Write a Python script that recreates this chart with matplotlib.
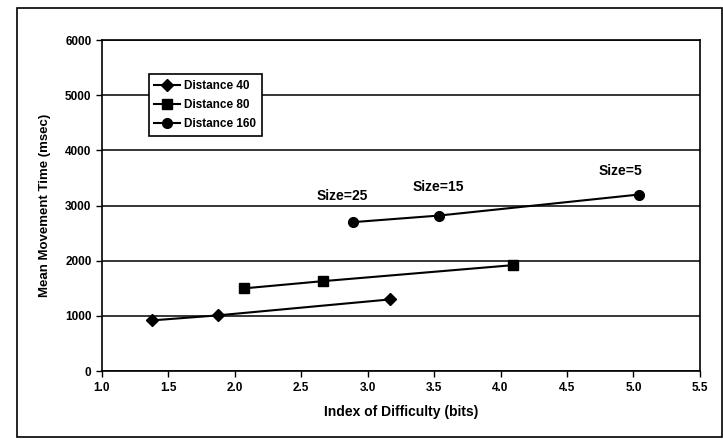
import matplotlib
matplotlib.use("Agg")
import matplotlib.pyplot as plt
from matplotlib.patches import Rectangle

# ---------------------------------------------------------
# DATA
# ---------------------------------------------------------

id_d40 = [1.38, 1.87, 3.17]
mt_d40 = [920, 1010, 1300]

id_d80 = [2.07, 2.66, 4.09]
mt_d80 = [1500, 1630, 1920]

id_d160 = [2.89, 3.54, 5.04]
mt_d160 = [2700, 2820, 3200]

size_labels = ["Size=25", "Size=15", "Size=5"]
size_label_x = [2.81, 3.53, 4.90]
size_label_y = [3180, 3345, 3620]

x_ticks = [1.0, 1.5, 2.0, 2.5, 3.0, 3.5, 4.0, 4.5, 5.0, 5.5]
y_ticks = [0, 1000, 2000, 3000, 4000, 5000, 6000]

# ---------------------------------------------------------
# STYLE
# ---------------------------------------------------------

plt.rcParams["font.family"] = ["Liberation Sans Narrow", "Liberation Sans", "DejaVu Sans"]
plt.rcParams["font.weight"] = "bold"

fig = plt.figure(figsize=(7.23, 4.45), dpi=100)
ax = fig.add_axes([0.141, 0.166, 0.827, 0.744])

# outer chart border
fig.patches.append(Rectangle((0.024, 0.018), 0.974, 0.964, transform=fig.transFigure,
                             fill=False, edgecolor="black", linewidth=1.2))

# ---------------------------------------------------------
# PLOT
# ---------------------------------------------------------

ax.plot(id_d40, mt_d40, color="black", lw=1.5, marker="D", ms=6, label="Distance 40")
ax.plot(id_d80, mt_d80, color="black", lw=1.5, marker="s", ms=7, label="Distance 80")
ax.plot(id_d160, mt_d160, color="black", lw=1.5, marker="o", ms=7, label="Distance 160")

for txt, x, y in zip(size_labels, size_label_x, size_label_y):
    ax.text(x, y, txt, fontsize=10, fontweight="bold", ha="center", va="center")

ax.set_xlim(1.0, 5.5)
ax.set_ylim(0, 6000)
ax.set_xticks(x_ticks)
ax.set_xticklabels([f"{t:.1f}" for t in x_ticks])
ax.set_yticks(y_ticks)

ax.yaxis.grid(True, color="black", linewidth=1.1)
ax.set_axisbelow(True)
for s in ax.spines.values():
    s.set_linewidth(1.2)

ax.tick_params(axis="both", labelsize=8.5, direction="out", length=4, width=1)
for lbl in ax.get_xticklabels() + ax.get_yticklabels():
    lbl.set_fontweight("bold")

ax.set_xlabel("Index of Difficulty (bits)", fontsize=10, fontweight="bold", labelpad=8)
ax.set_ylabel("Mean Movement Time (msec)", fontsize=9.5, fontweight="bold", labelpad=10)

leg = ax.legend(loc="upper left", bbox_to_anchor=(0.068, 0.915), fontsize=8.5,
                frameon=True, fancybox=False, edgecolor="black", framealpha=1,
                handlelength=2.2, borderpad=0.5, labelspacing=0.6, handletextpad=0.3)
leg.get_frame().set_linewidth(1.2)
for t in leg.get_texts():
    t.set_fontweight("bold")

fig.savefig("out.png", dpi=100)
